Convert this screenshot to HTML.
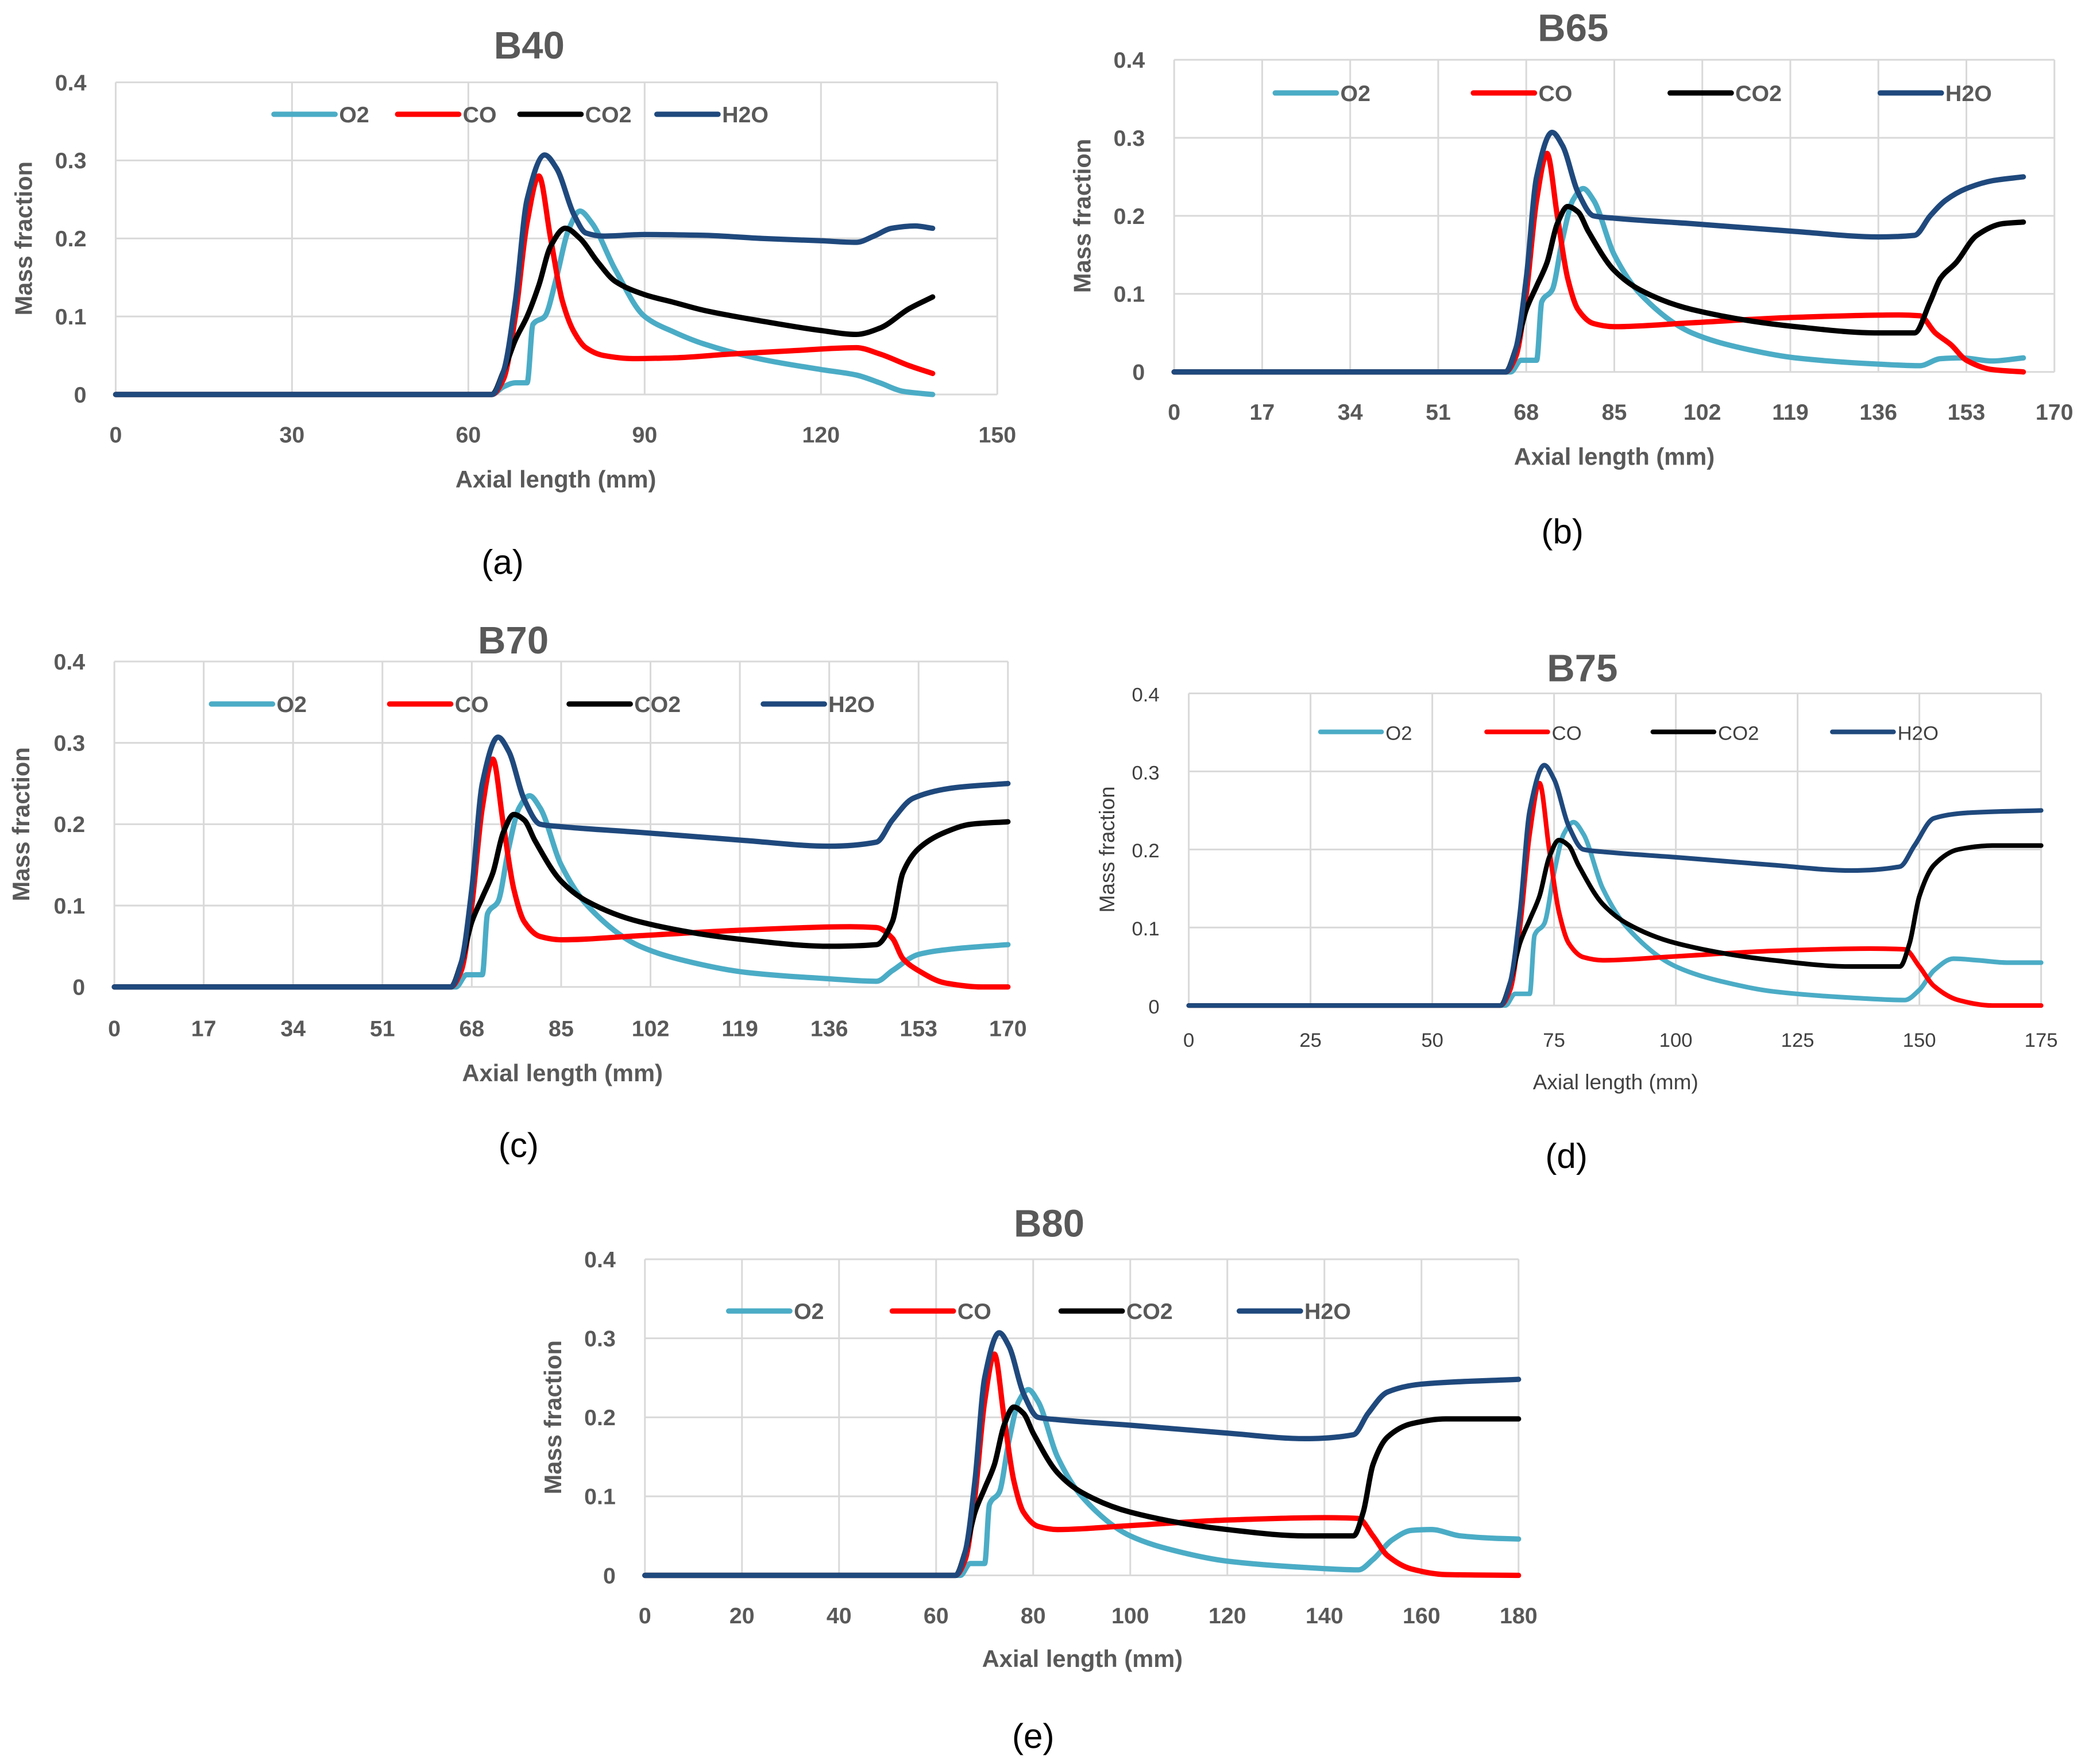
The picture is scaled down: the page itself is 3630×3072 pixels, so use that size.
<!DOCTYPE html>
<html><head><meta charset="utf-8"><style>
html,body{margin:0;padding:0;background:#fff;}
svg{display:block;}
text{font-family:"Liberation Sans",sans-serif;}
</style></head><body>
<svg id="fig" width="3630" height="3072" viewBox="0 0 1568 1328" preserveAspectRatio="none" xmlns="http://www.w3.org/2000/svg"></svg>
<script>
const seriesNames = ["O2","CO","CO2","H2O"];
const seriesColors = ["#4bacc6","#ff0000","#000000","#1f497d"];

// ---- B40 ----
const b40Ticks = [0,30,60,90,120,150];
const b40_O2_x = [0,64,66,68,70,71,73,75,77,79,81,85,90,95,100,110,120,126,130,134,139];
const b40_O2_y = [0,0,0.01,0.015,0.015,0.09,0.1,0.15,0.21,0.235,0.22,0.16,0.1,0.08,0.065,0.045,0.032,0.025,0.015,0.004,0];
const b40_CO_x = [0,64,66,68,70,72,74,76,78,80,83,88,95,105,115,126,130,135,139];
const b40_CO_y = [0,0,0.02,0.1,0.22,0.28,0.2,0.12,0.08,0.06,0.05,0.046,0.047,0.052,0.056,0.06,0.052,0.037,0.027];
const b40_CO2_x = [0,64,66,68,70,72,74,76.5,79,82,85,90,95,100,110,120,126,130,135,139];
const b40_CO2_y = [0,0,0.03,0.07,0.1,0.14,0.19,0.213,0.2,0.17,0.145,0.128,0.118,0.108,0.094,0.082,0.077,0.085,0.11,0.125];
const b40_H2O_x = [0,64,66,68,70,73,75,78,80,83,90,100,110,120,126,129,132,136,139];
const b40_H2O_y = [0,0,0.03,0.12,0.25,0.307,0.29,0.23,0.207,0.203,0.205,0.204,0.2,0.197,0.195,0.203,0.213,0.216,0.213];

// ---- B65 ----
const b65Ticks = [0,17,34,51,68,85,102,119,136,153,170];
const b65_O2_x = [0,65,67,69,70,71,73,75,77,79,81,85,90,100,110,120,136,144,148,152,158,164];
const b65_O2_y = [0,0,0.015,0.015,0.015,0.09,0.105,0.17,0.22,0.235,0.22,0.15,0.1,0.05,0.03,0.018,0.01,0.008,0.017,0.018,0.014,0.018];
const b65_CO_x = [0,64,66,68,70,72,74,76,78,81,85,100,120,140,144,147,150,153,158,164];
const b65_CO_y = [0,0,0.02,0.1,0.22,0.28,0.2,0.12,0.08,0.062,0.058,0.063,0.07,0.073,0.072,0.05,0.035,0.015,0.003,0];
const b65_CO2_x = [0,64,66,68,70,72,74,76,78,80,85,90,100,120,136,143,146,148,151,155,160,164];
const b65_CO2_y = [0,0,0.03,0.08,0.11,0.14,0.19,0.212,0.205,0.18,0.13,0.105,0.08,0.058,0.05,0.05,0.09,0.12,0.14,0.175,0.19,0.192];
const b65_H2O_x = [0,64,66,68,70,73,75,78,81,85,100,120,136,143,146,149,153,158,164];
const b65_H2O_y = [0,0,0.03,0.12,0.25,0.307,0.29,0.23,0.2,0.197,0.19,0.18,0.173,0.175,0.2,0.22,0.235,0.245,0.25];

// ---- B70 ----
const b70Ticks = [0,17,34,51,68,85,102,119,136,153,170];
const b70_O2_x = [0,65,67,69,70,71,73,75,77,79,81,85,90,100,110,120,136,145,148,153,160,170];
const b70_O2_y = [0,0,0.015,0.015,0.015,0.09,0.105,0.17,0.22,0.235,0.22,0.15,0.1,0.05,0.03,0.018,0.01,0.007,0.02,0.04,0.047,0.052];
const b70_CO_x = [0,64,66,68,70,72,74,76,78,81,85,100,120,140,145,148,150,153,158,165,170];
const b70_CO_y = [0,0,0.02,0.1,0.22,0.28,0.2,0.12,0.08,0.062,0.058,0.063,0.07,0.074,0.073,0.06,0.035,0.02,0.005,0,0];
const b70_CO2_x = [0,64,66,68,70,72,74,76,78,80,85,90,100,120,136,145,148,150,153,158,163,170];
const b70_CO2_y = [0,0,0.03,0.08,0.11,0.14,0.19,0.212,0.205,0.18,0.13,0.105,0.08,0.058,0.05,0.052,0.08,0.14,0.17,0.19,0.2,0.203];
const b70_H2O_x = [0,64,66,68,70,73,75,78,81,85,100,120,136,145,148,152,160,170];
const b70_H2O_y = [0,0,0.03,0.12,0.25,0.307,0.29,0.23,0.2,0.197,0.19,0.18,0.173,0.178,0.205,0.232,0.245,0.25];

// ---- B75 ----
const b75Ticks = [0,25,50,75,100,125,150,175];
const b75_O2_x = [0,65,67,69,70,71,73,75,77,79,81,85,90,100,110,120,136,147,150,153,157,162,168,175];
const b75_O2_y = [0,0,0.015,0.015,0.015,0.09,0.105,0.17,0.22,0.235,0.22,0.15,0.1,0.05,0.03,0.018,0.01,0.007,0.02,0.045,0.06,0.058,0.055,0.055];
const b75_CO_x = [0,64,66,68,70,72,74,76,78,81,85,100,120,140,147,150,153,158,165,175];
const b75_CO_y = [0,0,0.02,0.1,0.22,0.285,0.2,0.12,0.08,0.062,0.058,0.063,0.07,0.073,0.072,0.05,0.025,0.007,0,0];
const b75_CO2_x = [0,64,66,68,70,72,74,76,78,80,85,90,100,120,136,146,148,150,153,158,165,175];
const b75_CO2_y = [0,0,0.03,0.08,0.11,0.14,0.19,0.212,0.205,0.18,0.13,0.105,0.08,0.058,0.05,0.05,0.08,0.14,0.18,0.2,0.205,0.205];
const b75_H2O_x = [0,64,66,68,70,73,75,78,81,85,100,120,136,146,149,153,160,175];
const b75_H2O_y = [0,0,0.03,0.12,0.25,0.308,0.29,0.23,0.2,0.197,0.19,0.18,0.173,0.178,0.205,0.24,0.247,0.25];

// ---- B80 ----
const b80Ticks = [0,20,40,60,80,100,120,140,160,180];
const b80_O2_x = [0,65,67,69,70,71,73,75,77,79,81,85,90,100,110,120,136,147,150,154,158,162,168,175,180];
const b80_O2_y = [0,0,0.015,0.015,0.015,0.09,0.105,0.17,0.22,0.235,0.22,0.15,0.1,0.05,0.03,0.018,0.01,0.007,0.02,0.045,0.057,0.058,0.05,0.047,0.046];
const b80_CO_x = [0,64,66,68,70,72,74,76,78,81,85,100,120,140,147,150,153,158,165,180];
const b80_CO_y = [0,0,0.02,0.1,0.22,0.28,0.2,0.12,0.08,0.062,0.058,0.063,0.07,0.073,0.072,0.05,0.025,0.008,0.001,0];
const b80_CO2_x = [0,64,66,68,70,72,74,76,78,80,85,90,100,120,136,146,148,150,153,158,165,180];
const b80_CO2_y = [0,0,0.03,0.08,0.11,0.14,0.19,0.213,0.205,0.18,0.13,0.105,0.08,0.058,0.05,0.05,0.08,0.14,0.175,0.192,0.198,0.198];
const b80_H2O_x = [0,64,66,68,70,73,75,78,81,85,100,120,136,146,149,153,160,180];
const b80_H2O_y = [0,0,0.03,0.12,0.25,0.307,0.29,0.23,0.2,0.197,0.19,0.18,0.173,0.178,0.205,0.232,0.242,0.248];

const yTicks = [0,0.1,0.2,0.3,0.4];
const NS = "http://www.w3.org/2000/svg";
const fig = document.getElementById("fig");

function mk(tag, attrs, parent){
  const e = document.createElementNS(NS, tag);
  for (const k in attrs) e.setAttribute(k, attrs[k]);
  (parent||fig).appendChild(e);
  return e;
}
function txt(str, attrs, parent){ const t = mk("text", attrs, parent); t.textContent = str; return t; }

// monotone cubic (Fritsch-Carlson) in screen coords
function smoothPath(pts){
  const n = pts.length;
  const dx=[], s=[];
  for (let i=0;i<n-1;i++){ dx[i]=pts[i+1][0]-pts[i][0]; s[i]=(pts[i+1][1]-pts[i][1])/dx[i]; }
  const m=[];
  m[0]=s[0]; m[n-1]=s[n-2];
  for (let i=1;i<n-1;i++){
    if (s[i-1]*s[i]<=0) m[i]=0;
    else { const w1=2*dx[i]+dx[i-1], w2=dx[i]+2*dx[i-1]; m[i]=(w1+w2)/(w1/s[i-1]+w2/s[i]); }
  }
  let d = "M"+pts[0][0].toFixed(2)+","+pts[0][1].toFixed(2);
  for (let i=0;i<n-1;i++){
    const h=dx[i]/3;
    d+="C"+(pts[i][0]+h).toFixed(2)+","+(pts[i][1]+m[i]*h).toFixed(2)+" "+
       (pts[i+1][0]-h).toFixed(2)+","+(pts[i+1][1]-m[i+1]*h).toFixed(2)+" "+
       pts[i+1][0].toFixed(2)+","+pts[i+1][1].toFixed(2);
  }
  return d;
}

function panel(cfg){
  const g = mk("g", {});
  
  
  const xmax = cfg.ticks[cfg.ticks.length-1];
  const X = v => cfg.x0 + (v/xmax)*(cfg.x1-cfg.x0);
  const Y = v => cfg.y0 - (v/0.4)*(cfg.y0-cfg.y1);
  const tc = cfg.light ? "#404040" : "#595959";
  const fw = cfg.light ? "normal" : "bold";
  cfg.ticks.forEach(v=>{
    const l = mk("line",{x1:X(v),x2:X(v),y1:cfg.y1,y2:cfg.y0,stroke:"#d9d9d9","stroke-width":1.3},g);
    
    
    const t = txt(String(v),{x:X(v),y:cfg.y0+cfg.tickOff,"text-anchor":"middle","font-size":cfg.fs,"font-weight":fw,fill:tc},g);
    
    
  });
  yTicks.forEach(v=>{
    const l = mk("line",{x1:cfg.x0,x2:cfg.x1,y1:Y(v),y2:Y(v),stroke:"#d9d9d9","stroke-width":1.3},g);
    
    
    const t = txt(v===0?"0":String(v),{x:cfg.x0-22,y:Y(v)+6,"text-anchor":"end","font-size":cfg.fs,"font-weight":fw,fill:tc},g);
    
    
  });
  cfg.data.forEach((s,i)=>{
    const pts = s[0].map((xv,j)=>[X(xv),Y(s[1][j])]);
    const p = mk("path",{d:smoothPath(pts),fill:"none",stroke:seriesColors[i],"stroke-width":cfg.lw,"stroke-linejoin":"round","stroke-linecap":"round"},g);
    
    
  });
  cfg.leg.forEach((lx,i)=>{
    const l = mk("line",{x1:lx,x2:lx+46,y1:cfg.legY,y2:cfg.legY,stroke:seriesColors[i],"stroke-width":cfg.lw,"stroke-linecap":"round"},g);
    
    
    const t = txt(seriesNames[i],{x:lx+49,y:cfg.legY+6,"font-size":cfg.fs,"font-weight":fw,fill:tc},g);
    
    
  });
  const ti = txt(cfg.title,{x:cfg.tx,y:cfg.ty,"text-anchor":"middle","font-size":29,"font-weight":"bold",fill:"#595959"},g);
  
  
  const yl = txt("Mass fraction",{x:0,y:0,transform:"translate("+cfg.ylx+","+((cfg.y0+cfg.y1)/2)+") rotate(-90)","text-anchor":"middle","font-size":cfg.fs+1,"font-weight":fw,fill:tc},g);
  
  
  const xl = txt("Axial length  (mm)",{x:cfg.xlx,y:cfg.xly,"text-anchor":"middle","font-size":cfg.fs+1,"font-weight":fw,fill:tc},g);
  
  
  const cap = txt(cfg.cap,{x:cfg.cx,y:cfg.cy,"text-anchor":"middle","font-size":26,fill:"#000","font-family":"Liberation Serif, serif"},g);
  
  
}

panel({id:"b40",title:"B40",tx:398,ty:44,ticks:b40Ticks,x0:87,x1:750,y0:297,y1:62,fs:17,lw:4,tickOff:36,
  data:[[b40_O2_x,b40_O2_y],[b40_CO_x,b40_CO_y],[b40_CO2_x,b40_CO2_y],[b40_H2O_x,b40_H2O_y]],
  leg:[206,299,391,494],legY:86,ylx:24,xlx:418,xly:367,cap:"(a)",cx:378,cy:432});
panel({id:"b65",title:"B65",tx:1183,ty:31,ticks:b65Ticks,x0:883,x1:1545,y0:280,y1:45,fs:17,lw:4,tickOff:36,
  data:[[b65_O2_x,b65_O2_y],[b65_CO_x,b65_CO_y],[b65_CO2_x,b65_CO2_y],[b65_H2O_x,b65_H2O_y]],
  leg:[959,1108,1256,1414],legY:70,ylx:820,xlx:1214,xly:350,cap:"(b)",cx:1175,cy:409});
panel({id:"b70",title:"B70",tx:386,ty:492,ticks:b70Ticks,x0:86,x1:758,y0:743,y1:498,fs:17,lw:4,tickOff:37,
  data:[[b70_O2_x,b70_O2_y],[b70_CO_x,b70_CO_y],[b70_CO2_x,b70_CO2_y],[b70_H2O_x,b70_H2O_y]],
  leg:[159,293,428,574],legY:530,ylx:22,xlx:423,xly:814,cap:"(c)",cx:390,cy:871});
panel({id:"b75",title:"B75",tx:1190,ty:513,ticks:b75Ticks,x0:894,x1:1535,y0:757,y1:522,fs:15,lw:3.5,tickOff:31,light:true,
  data:[[b75_O2_x,b75_O2_y],[b75_CO_x,b75_CO_y],[b75_CO2_x,b75_CO2_y],[b75_H2O_x,b75_H2O_y]],
  leg:[993,1118,1243,1378],legY:551,ylx:838,xlx:1215,xly:820,cap:"(d)",cx:1178,cy:879});
panel({id:"b80",title:"B80",tx:789,ty:931,ticks:b80Ticks,x0:485,x1:1142,y0:1186,y1:948,fs:17,lw:4,tickOff:36,
  data:[[b80_O2_x,b80_O2_y],[b80_CO_x,b80_CO_y],[b80_CO2_x,b80_CO2_y],[b80_H2O_x,b80_H2O_y]],
  leg:[548,671,798,932],legY:987,ylx:422,xlx:814,xly:1255,cap:"(e)",cx:777,cy:1316});
</script>
</body></html>
